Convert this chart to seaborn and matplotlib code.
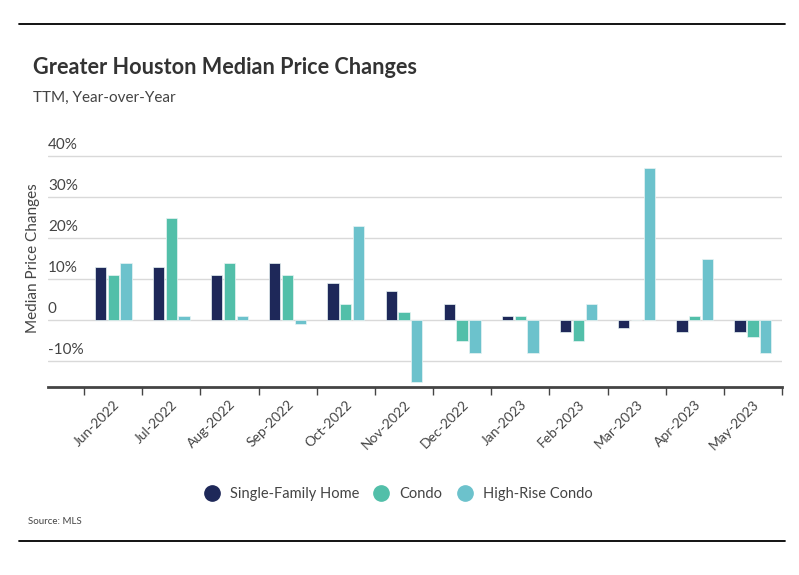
import pandas as pd
import numpy as np
import matplotlib
matplotlib.use("Agg")
import matplotlib.pyplot as plt
from matplotlib.lines import Line2D
import seaborn as sns

months = ["Jun-2022", "Jul-2022", "Aug-2022", "Sep-2022", "Oct-2022", "Nov-2022",
          "Dec-2022", "Jan-2023", "Feb-2023", "Mar-2023", "Apr-2023", "May-2023"]
series = ["Single-Family Home", "Condo", "High-Rise Condo"]
single_family = [13, 13, 11, 14, 9, 7, 4, 1, -3, -2, -3, -3]
condo = [11, 25, 14, 11, 4, 2, -5, 1, -5, 0, 1, -4]
high_rise = [14, 1, 1, -1, 23, -15, -8, -8, 4, 37, 15, -8]
y_ticks = [-10, 0, 10, 20, 30, 40]
y_tick_labels = ["-10%", "0", "10%", "20%", "30%", "40%"]

colors = ["#1e2859", "#52bfa9", "#6cc2cc"]

df = pd.DataFrame({
    "month": months * 3,
    "series": np.repeat(series, len(months)),
    "value": single_family + condo + high_rise,
})

sns.set_theme(style="white")
plt.rcParams["font.family"] = ["Lato", "DejaVu Sans"]

fig = plt.figure(figsize=(7.99, 5.75), dpi=100)
ax = fig.add_axes([48 / 799, 1 - 387 / 575, (782 - 48) / 799, (387 - 148) / 575])

sns.barplot(data=df, x="month", y="value", hue="series", order=months,
            hue_order=series, palette=colors, saturation=1, width=0.66, gap=0.12,
            edgecolor="#e8f4f4", linewidth=0.5, ax=ax, legend=False)

ax.set_xlim(-1.12, 11.5)
ax.set_ylim(-16.3, 42)

# grid lines with labels sitting above them
for v, lab in zip(y_ticks, y_tick_labels):
    ax.axhline(v, color="#d9d9d9", lw=1, zorder=0)
    ax.annotate(lab, xy=(0, v), xycoords=ax.get_yaxis_transform(),
                xytext=(0, 3), textcoords="offset points",
                ha="left", va="bottom", fontsize=11, color="#444444")
ax.set_yticks([])
ax.set_ylabel("")
ax.set_xlabel("")

for s in ["top", "right", "left"]:
    ax.spines[s].set_visible(False)
ax.spines["bottom"].set_color("#444444")
ax.spines["bottom"].set_linewidth(2)

ax.set_xticks(range(len(months)))
ax.set_xticklabels(months, rotation=45, ha="right", rotation_mode="anchor",
                   fontsize=10, color="#444444")
ax.tick_params(axis="x", which="major", length=0, pad=8)
ax.set_xticks(np.arange(-0.5, len(months), 1), minor=True)
ax.tick_params(axis="x", which="minor", length=6, width=1, color="#444444",
               bottom=True)

fig.text(33 / 799, 1 - 258 / 575, "Median Price Changes", rotation=90,
         ha="center", va="center", fontsize=11, color="#444444")

fig.text(33 / 799, 1 - 68 / 575, "Greater Houston Median Price Changes",
         ha="left", va="center", fontsize=15.6, fontweight="bold", color="#333333")
fig.text(33 / 799, 1 - 98 / 575, "TTM, Year-over-Year",
         ha="left", va="center", fontsize=11, color="#444444")

handles = [Line2D([0], [0], marker="o", color="none", markerfacecolor=c,
                  markeredgecolor=c, markersize=11) for c in colors]
fig.legend(handles, series, loc="center", bbox_to_anchor=(395 / 799, 1 - 494 / 575),
           ncol=3, frameon=False, fontsize=10.5, handletextpad=0.25,
           columnspacing=0.5, labelcolor="#444444")

fig.text(28 / 799, 1 - 522 / 575, "Source: MLS", ha="left", va="center",
         fontsize=7, color="#444444")

for yy in [24, 541]:
    fig.add_artist(Line2D([19 / 799, 785 / 799], [1 - yy / 575, 1 - yy / 575],
                          color="black", lw=1.3))

fig.savefig("out.png", dpi=100)
